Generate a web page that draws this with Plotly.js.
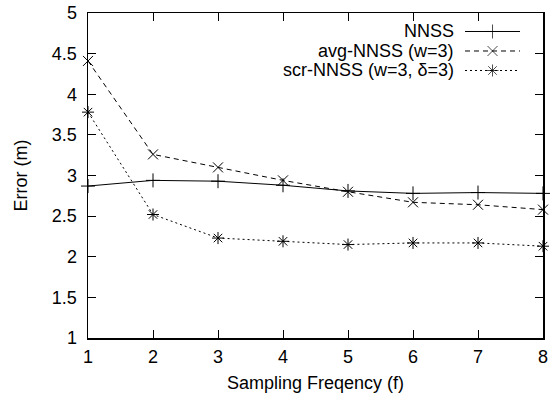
<!DOCTYPE html>
<html>
<head>
<meta charset="utf-8">
<script src="https://cdn.plot.ly/plotly-3.0.1.min.js"></script>
<style>html,body{margin:0;padding:0;background:#fff}#chart{width:557px;height:398px}</style>
</head>
<body>
<div id="chart"></div>
<script>
// ---- data ----
var freq = [1, 2, 3, 4, 5, 6, 7, 8];
var nnss = [2.87, 2.94, 2.93, 2.88, 2.81, 2.78, 2.79, 2.78];
var avgNnss = [4.41, 3.26, 3.10, 2.94, 2.80, 2.67, 2.64, 2.58];
var scrNnss = [3.78, 2.52, 2.23, 2.19, 2.15, 2.17, 2.17, 2.13];
var seriesNames = ["NNSS", "avg-NNSS (w=3)", "scr-NNSS (w=3, \u03b4=3)"];
var xTicks = [1, 2, 3, 4, 5, 6, 7, 8];
var yTicks = [1, 1.5, 2, 2.5, 3, 3.5, 4, 4.5, 5];
var yTickText = ["1", "1.5", "2", "2.5", "3", "3.5", "4", "4.5", "5"];

// ---- styles ----
var styles = [
  {dash: "solid", symbol: "cross-thin-open", size: 10},
  {dash: "5px,4px", symbol: "x-thin-open", size: 10},
  {dash: "2px,3px", symbol: "asterisk-open", size: 10}
];
var values = [nnss, avgNnss, scrNnss];
var FONT = "Liberation Sans, Arial, sans-serif";
var FS = 18;

var traces = [];
values.forEach(function (v, i) {
  traces.push({
    x: freq, y: v, type: "scatter", mode: "lines+markers",
    name: seriesNames[i], showlegend: false, cliponaxis: false,
    line: {color: "#000", width: 1, dash: styles[i].dash},
    marker: {symbol: styles[i].symbol, size: styles[i].size, color: "#000", line: {color: "#000", width: 1}}
  });
});

// custom gnuplot-style legend (text right-aligned, sample on the right)
var legRowY = [0.9431, 0.8831, 0.8231];
var legTextX = 0.8066, legX0 = 0.8286, legX1 = 0.9495;
var annotations = [];
seriesNames.forEach(function (n, i) {
  annotations.push({
    text: n, xref: "paper", yref: "paper", x: legTextX, y: legRowY[i],
    xanchor: "right", yanchor: "middle", showarrow: false,
    font: {family: FONT, size: FS, color: "#000"}, borderpad: 0
  });
  traces.push({
    x: [legX0, (legX0 + legX1) / 2, legX1], y: [legRowY[i], legRowY[i], legRowY[i]],
    xaxis: "x2", yaxis: "y2", type: "scatter", mode: "lines+markers",
    showlegend: false, hoverinfo: "skip", cliponaxis: false,
    line: {color: "#000", width: 1, dash: styles[i].dash},
    marker: {symbol: styles[i].symbol, size: [0, styles[i].size, 0], color: "#000", line: {color: "#000", width: 1}}
  });
});

var axisCommon = {
  showline: true, linecolor: "#000", linewidth: 1.5, mirror: "allticks",
  ticks: "inside", ticklen: 8, tickwidth: 1, tickcolor: "#000",
  showgrid: false, zeroline: false, automargin: false,
  tickfont: {family: FONT, size: FS, color: "#000"}
};

var layout = {
  width: 557, height: 398,
  margin: {l: 88, r: 14, t: 13, b: 60},
  paper_bgcolor: "#fff", plot_bgcolor: "#fff",
  showlegend: false,
  xaxis: Object.assign({}, axisCommon, {
    range: [1, 8], tickvals: xTicks, ticktext: xTicks.map(String),
    ticklabelstandoff: 2,
    title: {text: "Sampling Freqency (f)", font: {family: FONT, size: FS, color: "#000"}, standoff: 10}
  }),
  yaxis: Object.assign({}, axisCommon, {
    range: [1, 5], tickvals: yTicks, ticktext: yTickText,
    ticklabelstandoff: 6,
    title: {text: "Error (m)", font: {family: FONT, size: FS, color: "#000"}, standoff: 19}
  }),
  xaxis2: {overlaying: "x", range: [0, 1], visible: false, fixedrange: true},
  yaxis2: {overlaying: "y", range: [0, 1], visible: false, fixedrange: true},
  annotations: annotations
};

Plotly.newPlot("chart", traces, layout, {displayModeBar: false, staticPlot: true});
</script>
</body>
</html>
